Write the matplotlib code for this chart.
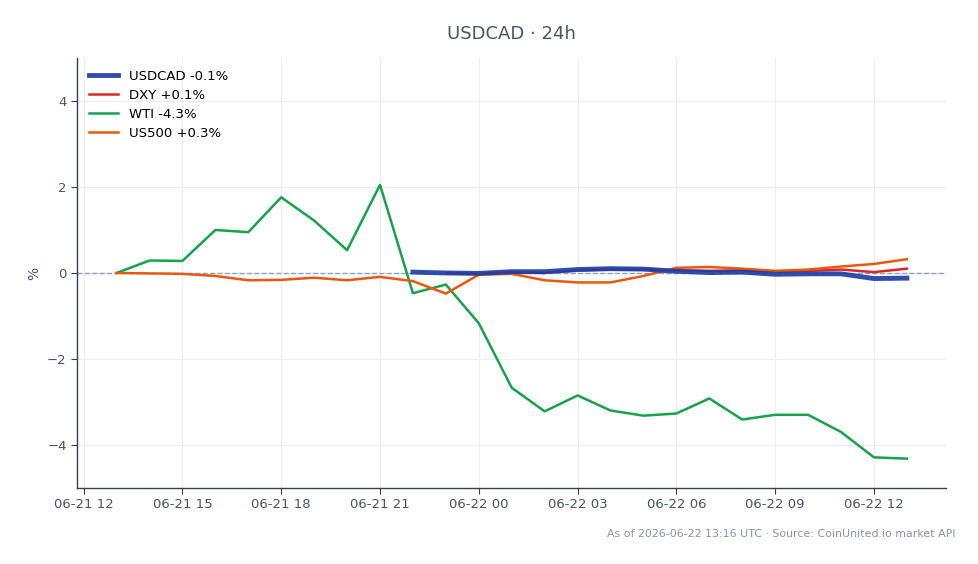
import numpy as np
import pandas as pd
import matplotlib
matplotlib.use("Agg")
import matplotlib.pyplot as plt
import matplotlib.dates as mdates

# hourly series, % change from first point
hours_long = pd.date_range("2026-06-21 13:00", "2026-06-22 13:00", freq="h")
hours_cad = pd.date_range("2026-06-21 22:00", "2026-06-22 13:00", freq="h")
hours_dxy = pd.date_range("2026-06-21 23:00", "2026-06-22 13:00", freq="h")

wti = [0.0, 0.29, 0.28, 1.00, 0.95, 1.76, 1.22, 0.53, 2.05, -0.47, -0.27,
       -1.17, -2.67, -3.22, -2.85, -3.20, -3.32, -3.27, -2.92, -3.41, -3.30,
       -3.30, -3.70, -4.29, -4.32]
us500 = [0.0, -0.01, -0.02, -0.07, -0.17, -0.16, -0.11, -0.17, -0.09, -0.19,
         -0.48, -0.04, -0.02, -0.17, -0.22, -0.22, -0.07, 0.12, 0.14, 0.10,
         0.05, 0.08, 0.15, 0.21, 0.32]
usdcad = [0.02, 0.0, -0.01, 0.03, 0.03, 0.08, 0.10, 0.09, 0.04, 0.01, 0.02,
          -0.03, -0.02, -0.02, -0.13, -0.12]
dxy = [0.0, -0.02, 0.02, 0.0, 0.06, 0.08, 0.08, 0.06, 0.05, 0.06, 0.03,
       0.05, 0.08, 0.02, 0.10]

labels = ["USDCAD -0.1%", "DXY +0.1%", "WTI -4.3%", "US500 +0.3%"]

fig = plt.figure(figsize=(9.79, 5.64), dpi=100)
ax = fig.add_axes([0.0787, 0.135, 0.888, 0.762])

ax.axhline(0, color="#8fa3c4", lw=1, ls="--", zorder=1)
ax.plot(hours_cad, usdcad, color="#1e3fa6", lw=3.5, alpha=0.92, label=labels[0], zorder=4)
ax.plot(hours_dxy, dxy, color="#dc2626", lw=1.8, label=labels[1], zorder=3)
ax.plot(hours_long, wti, color="#16a34a", lw=1.8, label=labels[2], zorder=2)
ax.plot(hours_long, us500, color="#ea580c", lw=1.8, label=labels[3], zorder=3)

ax.set_ylim(-5, 5)
ax.set_yticks([-4, -2, 0, 2, 4])
ax.xaxis.set_major_locator(mdates.HourLocator(byhour=range(0, 24, 3)))
ax.xaxis.set_major_formatter(mdates.DateFormatter("%m-%d %H"))

ax.grid(True, color="#eceef2", lw=0.8)
ax.set_axisbelow(True)
for s in ["top", "right"]:
    ax.spines[s].set_visible(False)
for s in ["left", "bottom"]:
    ax.spines[s].set_color("#334155")
    ax.spines[s].set_linewidth(1.0)
ax.tick_params(colors="#334155", labelcolor="#475569", labelsize=9.5, length=4)

ax.set_ylabel("%", color="#475569", fontsize=10)
ax.set_title("USDCAD · 24h", color="#4a5568", fontsize=13, pad=14)

ax.legend(loc="upper left", frameon=False, fontsize=9.5, handlelength=2.2,
          labelspacing=0.45)

fig.text(0.976, 0.045, "As of 2026-06-22 13:16 UTC · Source: CoinUnited.io market API",
         ha="right", va="bottom", fontsize=7.9, color="#8a94a6")

plt.savefig("out.png", dpi=100)
